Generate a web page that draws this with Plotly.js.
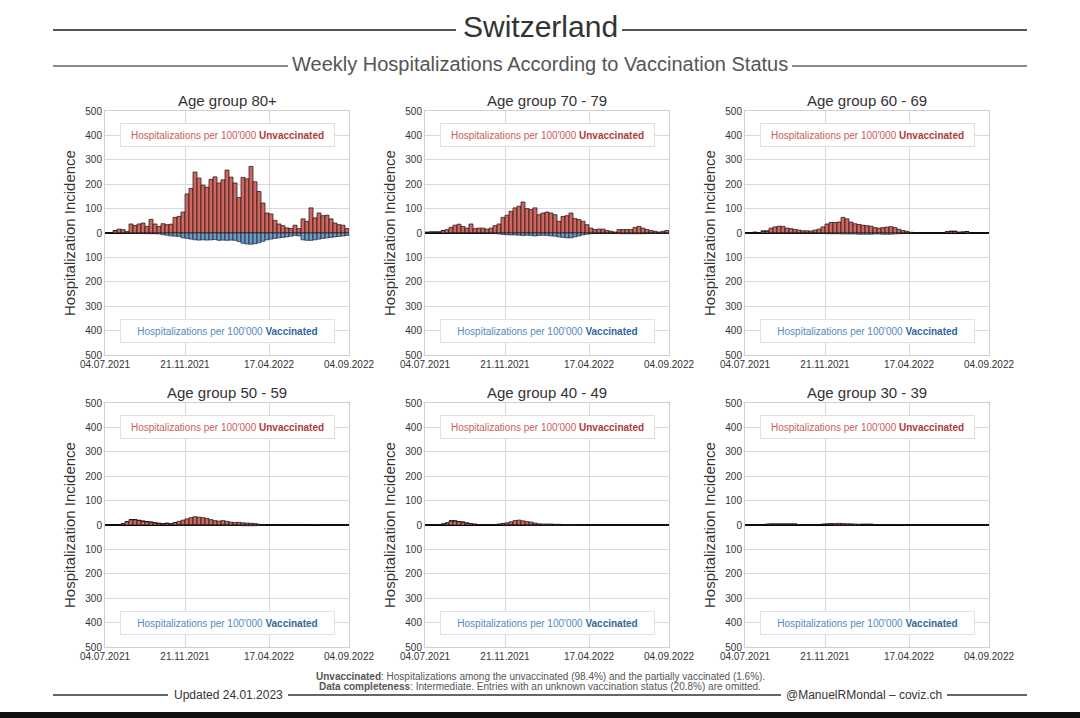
<!DOCTYPE html>
<html>
<head>
<meta charset="utf-8">
<script src="https://cdn.plot.ly/plotly-3.0.1.min.js"></script>
<style>html,body{margin:0;padding:0;background:#fff;}#chart{width:1080px;height:718px;}</style>
</head>
<body>
<div id="chart"></div>
<script>
// ---- Data (weekly, starting week of 04.07.2021) ----
const weekStart = '2021-07-04';
const tickDates = ['2021-07-04','2021-11-21','2022-04-17','2022-09-04'];
const tickLabels = ['04.07.2021','21.11.2021','17.04.2022','04.09.2022'];
const yTickVals = [-500,-400,-300,-200,-100,0,100,200,300,400,500];
const yTickText = ['500','400','300','200','100','0','100','200','300','400','500'];
const groupTitles = ['Age group 80+','Age group 70 - 79','Age group 60 - 69','Age group 50 - 59','Age group 40 - 49','Age group 30 - 39'];

// Hospitalizations per 100'000 – unvaccinated
const u80 = [0,2,10,16,14,7,37,31,37,41,27,56,37,27,38,34,36,64,68,86,160,183,250,225,196,188,220,230,205,218,258,229,205,145,228,222,273,210,170,123,82,78,52,37,30,21,18,32,18,58,48,103,62,82,71,73,58,41,34,32,18];
const u70 = [3,4,4,4,10,14,23,32,36,27,20,37,18,20,20,16,20,30,37,64,73,89,103,110,127,100,96,103,75,82,86,82,75,48,68,71,82,59,55,48,34,20,14,16,16,10,7,4,14,14,14,14,23,27,20,14,10,7,4,7,10];
const u60 = [0,0,3,0,8,8,20,25,28,27,20,18,14,12,9,9,8,12,16,25,37,43,43,45,64,58,45,38,35,32,30,28,22,20,22,24,26,22,15,10,7,3,2,0,0,2,0,0,0,2,5,7,7,3,4,6,0,0,0,0,0];
const u50 = [0,0,0,2,5,14,22,22,19,16,14,12,9,7,5,7,5,10,15,20,25,30,34,32,30,27,22,18,16,18,15,12,10,11,9,8,7,6,3,0,0,0,0,0,1,0,0,0,0,0,0,2,2,1,0,0,0,0,0,0,0];
const u40 = [0,0,2,2,4,8,17,17,14,12,8,6,3,2,2,2,2,2,3,6,9,13,18,20,17,14,12,8,5,4,4,4,3,3,2,2,2,2,2,0,0,0,0,0,0,0,0,0,0,0,0,0,0,0,0,0,0,0,0,0,0];
const u30 = [0,0,0,0,0,3,4,4,4,4,4,4,4,2,0,0,0,0,2,3,4,5,6,7,6,5,5,4,3,3,3,3,2,2,2,2,2,2,2,1,0,0,0,0,0,0,0,0,0,0,0,0,0,0,0,0,0,0,0,0,0];

// Hospitalizations per 100'000 – vaccinated (drawn downwards)
const v80 = [0,0,0,1,1,1,2,2,2,2,3,3,3,4,7,9,12,13,14,20,22,25,28,29,28,29,28,27,30,29,30,29,30,35,42,45,46,44,40,34,28,25,22,20,18,16,13,10,12,28,30,30,28,25,22,20,18,16,14,12,10];
const v70 = [0,0,0,0,0,1,1,1,1,1,1,1,1,1,1,2,2,2,4,6,7,8,8,9,10,9,10,12,10,9,10,12,13,16,18,20,20,16,12,8,5,3,2,2,2,2,2,2,2,3,3,3,3,3,3,2,2,2,2,2,2];
const v60 = [0,0,0,0,0,0,1,1,1,1,1,1,1,1,1,1,1,1,2,2,3,3,3,3,4,4,4,4,5,5,5,5,4,4,5,5,5,4,3,2,1,1,0,0,0,0,0,0,0,0,0,0,0,0,0,0,0,0,0,0,0];
const v50 = [0,0,0,0,0,0,0,0,0,0,0,0,0,0,0,0,0,0,1,1,1,1,1,1,1,1,1,2,2,2,2,2,2,2,3,3,3,3,2,1,0,0,0,0,0,0,0,0,0,0,0,0,0,0,0,0,0,0,0,0,0];
const v40 = [0,0,0,0,0,0,0,0,0,0,0,0,0,0,0,0,0,0,0,0,1,1,1,1,1,1,1,1,1,1,1,1,1,1,1,1,1,1,0,0,0,0,0,0,0,0,0,0,0,0,0,0,0,0,0,0,0,0,0,0,0];
const v30 = [0,0,0,0,0,0,0,0,0,0,0,0,0,0,0,0,0,0,0,0,0,0,1,1,1,1,1,1,1,0,0,0,0,0,0,0,0,0,0,0,0,0,0,0,0,0,0,0,0,0,0,0,0,0,0,0,0,0,0,0,0];

const unvacc = [u80,u70,u60,u50,u40,u30];
const vacc = [v80,v70,v60,v50,v40,v30];

// ---- Build ----
const W = 1080, H = 718;
const px = x => x / W;
const py = y => 1 - y / H;
const FONT = 'Liberation Sans, Arial, sans-serif';
const RED = '#d2665f', BLUE = '#6a9bca';

function weekCenters(n) {
  const t0 = Date.parse(weekStart + 'T00:00:00Z');
  const out = [];
  for (let i = 0; i < n; i++) {
    const d = new Date(t0 + (7 * i + 3.5) * 86400000);
    out.push(d.toISOString().slice(0, 16).replace('T', ' '));
  }
  return out;
}
const dates = weekCenters(u80.length);

const colsX = [[105, 349], [425, 669], [745, 989]];
const rowsY = [[111, 355], [403, 647]];

const data = [];
const layout = {
  width: W, height: H,
  margin: {l: 0, r: 0, t: 0, b: 0},
  paper_bgcolor: '#fff', plot_bgcolor: '#fff',
  showlegend: false,
  barmode: 'relative', bargap: 0,
  font: {family: FONT, color: '#333'},
  annotations: [], shapes: []
};

for (let k = 0; k < 6; k++) {
  const n = k + 1;
  const sfx = n === 1 ? '' : String(n);
  const col = colsX[k % 3], row = rowsY[Math.floor(k / 3)];
  data.push({
    type: 'bar', x: dates, y: unvacc[k], xaxis: 'x' + sfx, yaxis: 'y' + sfx,
    marker: {color: RED, line: {color: 'rgba(20,20,20,0.9)', width: 0.8}}, hoverinfo: 'skip'
  });
  data.push({
    type: 'bar', x: dates, y: vacc[k].map(v => -v), xaxis: 'x' + sfx, yaxis: 'y' + sfx,
    marker: {color: BLUE, line: {color: 'rgba(20,20,20,0.8)', width: 0.8}}, hoverinfo: 'skip'
  });
  layout['xaxis' + sfx] = {
    type: 'date', domain: [px(col[0]), px(col[1])], anchor: 'y' + sfx,
    range: ['2021-07-04', '2022-09-04'],
    tickmode: 'array', tickvals: tickDates, ticktext: tickLabels,
    tickfont: {size: 10, color: '#333', family: FONT}, ticks: '',
    showgrid: true, gridcolor: '#d9d9d9', gridwidth: 1,
    showline: true, linecolor: '#d0d0d0', linewidth: 1, mirror: true,
    zeroline: false, fixedrange: true
  };
  layout['yaxis' + sfx] = {
    domain: [py(row[1]), py(row[0])], anchor: 'x' + sfx,
    range: [-500, 500], tickmode: 'array', tickvals: yTickVals, ticktext: yTickText,
    tickfont: {size: 10, color: '#333', family: FONT}, ticks: '',
    showgrid: true, gridcolor: '#d9d9d9', gridwidth: 1,
    showline: true, linecolor: '#d0d0d0', linewidth: 1, mirror: true,
    zeroline: true, zerolinecolor: '#000', zerolinewidth: 1.5,
    title: {text: 'Hospitalization Incidence', font: {size: 15, color: '#333', family: FONT}, standoff: 6},
    fixedrange: true
  };
  // subplot title
  layout.annotations.push({
    xref: 'paper', yref: 'paper', x: px((col[0] + col[1]) / 2), y: py(row[0] - 11),
    text: groupTitles[k], showarrow: false, xanchor: 'center', yanchor: 'middle',
    font: {size: 15, color: '#333', family: FONT}
  });
  // label boxes
  layout.annotations.push({
    xref: 'x' + sfx + ' domain', yref: 'y' + sfx, x: 0.5, y: 400,
    text: "<span style='color:#c85e59'>Hospitalizations per 100'000 </span><b><span style='color:#b23a36'>Unvaccinated</span></b>",
    showarrow: false, xanchor: 'center', yanchor: 'middle',
    font: {size: 10, family: FONT}, bgcolor: '#fff', bordercolor: '#eed9d9', borderwidth: 1,
    borderpad: 3, width: 207, height: 16
  });
  layout.annotations.push({
    xref: 'x' + sfx + ' domain', yref: 'y' + sfx, x: 0.5, y: -400,
    text: "<span style='color:#5289bf'>Hospitalizations per 100'000 </span><b><span style='color:#2f679e'>Vaccinated</span></b>",
    showarrow: false, xanchor: 'center', yanchor: 'middle',
    font: {size: 10, family: FONT}, bgcolor: '#fff', bordercolor: '#d8e3ee', borderwidth: 1,
    borderpad: 3, width: 207, height: 16
  });
}

// header
layout.annotations.push({
  xref: 'paper', yref: 'paper', x: 0.5, y: py(27), text: 'Switzerland', showarrow: false,
  xanchor: 'center', yanchor: 'middle', font: {size: 30, color: '#333', family: FONT}
});
layout.annotations.push({
  xref: 'paper', yref: 'paper', x: 0.5, y: py(64), text: 'Weekly Hospitalizations According to Vaccination Status', showarrow: false,
  xanchor: 'center', yanchor: 'middle', font: {size: 20, color: '#555', family: FONT}
});
// footer notes
layout.annotations.push({
  xref: 'paper', yref: 'paper', x: px(540), y: py(676),
  text: '<b>Unvaccinated</b>: Hospitalizations among the unvaccinated (98.4%) and the partially vaccinated (1.6%).',
  showarrow: false, xanchor: 'center', yanchor: 'middle', font: {size: 10, color: '#555', family: FONT}
});
layout.annotations.push({
  xref: 'paper', yref: 'paper', x: px(540), y: py(686),
  text: '<b>Data completeness</b>: Intermediate. Entries with an unknown vaccination status (20.8%) are omitted.',
  showarrow: false, xanchor: 'center', yanchor: 'middle', font: {size: 10, color: '#555', family: FONT}
});
layout.annotations.push({
  xref: 'paper', yref: 'paper', x: px(228), y: py(695), text: 'Updated 24.01.2023',
  showarrow: false, xanchor: 'center', yanchor: 'middle', font: {size: 12, color: '#333', family: FONT}
});
layout.annotations.push({
  xref: 'paper', yref: 'paper', x: px(864), y: py(695), text: '@ManuelRMondal – coviz.ch',
  showarrow: false, xanchor: 'center', yanchor: 'middle', font: {size: 12, color: '#333', family: FONT}
});

function hline(x0, x1, y, color, w) {
  layout.shapes.push({type: 'line', xref: 'paper', yref: 'paper', x0: px(x0), x1: px(x1), y0: py(y), y1: py(y), line: {color: color, width: w}});
}
hline(53, 456, 30, '#555', 1.8); hline(622, 1027, 30, '#555', 1.8);
hline(53, 288, 66, '#666', 1.5); hline(792, 1027, 66, '#666', 1.5);
hline(53, 168, 695, '#333', 1.5); hline(288, 781, 695, '#333', 1.5); hline(947, 1027, 695, '#333', 1.5);
layout.shapes.push({type: 'rect', xref: 'paper', yref: 'paper', x0: 0, x1: 1, y0: 0, y1: py(712), fillcolor: '#111', line: {width: 0}});

Plotly.newPlot('chart', data, layout, {displayModeBar: false, staticPlot: true});
</script>
</body>
</html>
